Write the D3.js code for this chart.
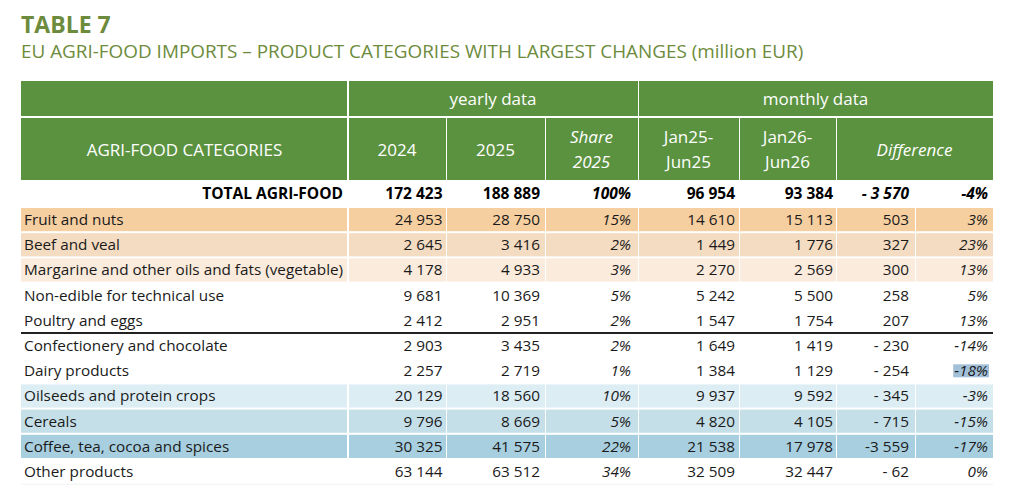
<!DOCTYPE html>
<html>
<head>
<meta charset="utf-8">
<script src="https://cdn.jsdelivr.net/npm/d3@7"></script>
<style>
  body { margin: 0; background: #fff; }
  svg { display: block; font-family: 'Open Sans', sans-serif; }
</style>
</head>
<body>
<svg width="1024" height="500"></svg>
<script>
const categories = [
  "Fruit and nuts",
  "Beef and veal",
  "Margarine and other oils and fats (vegetable)",
  "Non-edible for technical use",
  "Poultry and eggs",
  "Confectionery and chocolate",
  "Dairy products",
  "Oilseeds and protein crops",
  "Cereals",
  "Coffee, tea, cocoa and spices",
  "Other products"
];
const v2024 = [24953, 2645, 4178, 9681, 2412, 2903, 2257, 20129, 9796, 30325, 63144];
const v2025 = [28750, 3416, 4933, 10369, 2951, 3435, 2719, 18560, 8669, 41575, 63512];
const share2025 = [15, 2, 3, 5, 2, 2, 1, 10, 5, 22, 34];
const jan25 = [14610, 1449, 2270, 5242, 1547, 1649, 1384, 9937, 4820, 21538, 32509];
const jan26 = [15113, 1776, 2569, 5500, 1754, 1419, 1129, 9592, 4105, 17978, 32447];
const diff = [503, 327, 300, 258, 207, -230, -254, -345, -715, -3559, -62];
const diffPct = [3, 23, 13, 5, 13, -14, -18, -3, -15, -17, 0];

const totalLabel = "TOTAL AGRI-FOOD";
const total = [172423, 188889, 100, 96954, 93384, -3570, -4];

const headerTop = ["", "yearly data", "monthly data"];
const headerBottom = ["AGRI-FOOD CATEGORIES", "2024", "2025", "Share\n2025", "Jan25-\nJun25", "Jan26-\nJun26", "Difference"];

// styling
const green = "#5b9240";
const titleColor = "#6d8b3c";
const rowFill = {
  "Fruit and nuts": "#f6cfa1",
  "Beef and veal": "#f4dcc2",
  "Margarine and other oils and fats (vegetable)": "#fbebdc",
  "Oilseeds and protein crops": "#ddedf4",
  "Cereals": "#c5dfe9",
  "Coffee, tea, cocoa and spices": "#a8cfdf"
};
const tightMinus = ["Coffee, tea, cocoa and spices"];

const svg = d3.select("svg");
const edges = [21, 348, 446, 545, 638, 739, 836, 915, 993];
const rightPad = [0, 3.5, 5, 7, 4, 3, 6, 5];
const italicCols = [3, 7];
const gap = 2;
const bodySize = "15.3px";

const nf = d3.formatLocale({ decimal: ".", thousands: "\u00a0", grouping: [3] }).format(",d");
const fmtDiff = (v, tight) => v < 0 ? (tight ? "-" : "- ") + nf(-v) : nf(v);
const fmtPct = v => v + "%";

svg.append("text")
  .attr("x", 21).attr("y", 33)
  .attr("fill", titleColor)
  .style("font-size", "23px").style("font-weight", "bold")
  .text("TABLE 7");

svg.append("text")
  .attr("x", 21).attr("y", 58)
  .attr("fill", titleColor)
  .style("font-size", "18.9px")
  .text("EU AGRI-FOOD IMPORTS \u2013 PRODUCT CATEGORIES WITH LARGEST CHANGES (million EUR)");

// header row 1
const h1 = [[edges[0], edges[1]], [edges[1], edges[4]], [edges[4], edges[8]]];
const head = svg.append("g");
h1.forEach(([x0, x1], i) => {
  head.append("rect")
    .attr("x", x0 + (i ? gap / 2 : 0)).attr("y", 81)
    .attr("width", x1 - x0 - gap / 2).attr("height", 35)
    .attr("fill", green);
  head.append("text")
    .attr("x", (x0 + x1) / 2).attr("y", 105)
    .attr("text-anchor", "middle").attr("fill", "#fff")
    .style("font-size", "17px")
    .text(headerTop[i]);
});

// header row 2
const h2 = [[0, 1], [1, 2], [2, 3], [3, 4], [4, 5], [5, 6], [6, 8]];
h2.forEach(([a, b], i) => {
  const x0 = edges[a], x1 = edges[b];
  head.append("rect")
    .attr("x", x0 + (i ? gap / 2 : 0)).attr("y", 118)
    .attr("width", x1 - x0 - gap / 2).attr("height", 62)
    .attr("fill", green);
  const lines = headerBottom[i].split("\n");
  const t = head.append("text")
    .attr("text-anchor", "middle").attr("fill", "#fff")
    .style("font-size", "17px")
    .style("font-style", (i === 3 || i === 6) ? "italic" : "normal");
  lines.forEach((l, k) => {
    t.append("tspan")
      .attr("x", (x0 + x1) / 2)
      .attr("y", 155.5 + (k - (lines.length - 1) / 2) * 25)
      .text(l);
  });
});

// total row
const totalTexts = [nf(total[0]), nf(total[1]), fmtPct(total[2]), nf(total[3]), nf(total[4]), fmtDiff(total[5], false), fmtPct(total[6])];
svg.append("text")
  .attr("x", edges[1] - 5).attr("y", 199)
  .attr("text-anchor", "end")
  .style("font-size", "15.5px").style("font-weight", "bold")
  .text(totalLabel);
totalTexts.forEach((s, j) => {
  const c = j + 1;
  svg.append("text")
    .attr("x", edges[c + 1] - rightPad[c]).attr("y", 199)
    .attr("text-anchor", "end")
    .style("font-size", "15.5px").style("font-weight", "bold")
    .style("font-style", (c === 3 || c >= 6) ? "italic" : "normal")
    .text(s);
});

// body rows
const y = d3.scaleBand()
  .domain(categories)
  .range([207, 207 + categories.length * 25.2])
  .paddingInner(0.08)
  .paddingOuter(0.04);

const rows = svg.selectAll("g.row")
  .data(categories.map((c, i) => ({
    cat: c,
    cells: [c, nf(v2024[i]), nf(v2025[i]), fmtPct(share2025[i]), nf(jan25[i]), nf(jan26[i]),
      fmtDiff(diff[i], tightMinus.includes(c)), fmtPct(diffPct[i])]
  })))
  .enter().append("g")
  .attr("class", "row")
  .attr("transform", d => `translate(0,${y(d.cat)})`);

rows.each(function (d) {
  const g = d3.select(this);
  const fill = rowFill[d.cat];
  if (fill) {
    for (let c = 0; c < 8; c++) {
      g.append("rect")
        .attr("x", edges[c] + (c ? gap / 2 : 0)).attr("y", 0)
        .attr("width", edges[c + 1] - edges[c] - gap / 2)
        .attr("height", y.bandwidth())
        .attr("fill", fill);
    }
  }
  d.cells.forEach((s, c) => {
    const t = g.append("text")
      .attr("y", y.bandwidth() / 2 + 5.5)
      .attr("fill", "#1a1a1a")
      .style("font-size", bodySize)
      .style("font-style", italicCols.includes(c) ? "italic" : "normal")
      .text(s);
    if (c === 0) t.attr("x", 24);
    else t.attr("x", edges[c + 1] - rightPad[c]).attr("text-anchor", "end");
    if (d.cat === "Dairy products" && c === 7) {
      const bb = t.node().getBBox();
      g.insert("rect", "text")
        .attr("x", bb.x - 1).attr("y", y.bandwidth() / 2 - 6.5)
        .attr("width", bb.width + 2).attr("height", 13)
        .attr("fill", "#a3c0d9");
    }
  });
});

// separator line
const sepY = y("Confectionery and chocolate") - 1;
svg.append("line")
  .attr("x1", edges[0]).attr("x2", edges[8])
  .attr("y1", sepY).attr("y2", sepY)
  .attr("stroke", "#222").attr("stroke-width", 2);

// faint bottom edge
const bottomY = y("Other products") + y.bandwidth() + 1;
svg.append("line")
  .attr("x1", edges[0]).attr("x2", edges[8])
  .attr("y1", bottomY).attr("y2", bottomY)
  .attr("stroke", "#f2f2f2").attr("stroke-width", 1);
</script>
</body>
</html>
